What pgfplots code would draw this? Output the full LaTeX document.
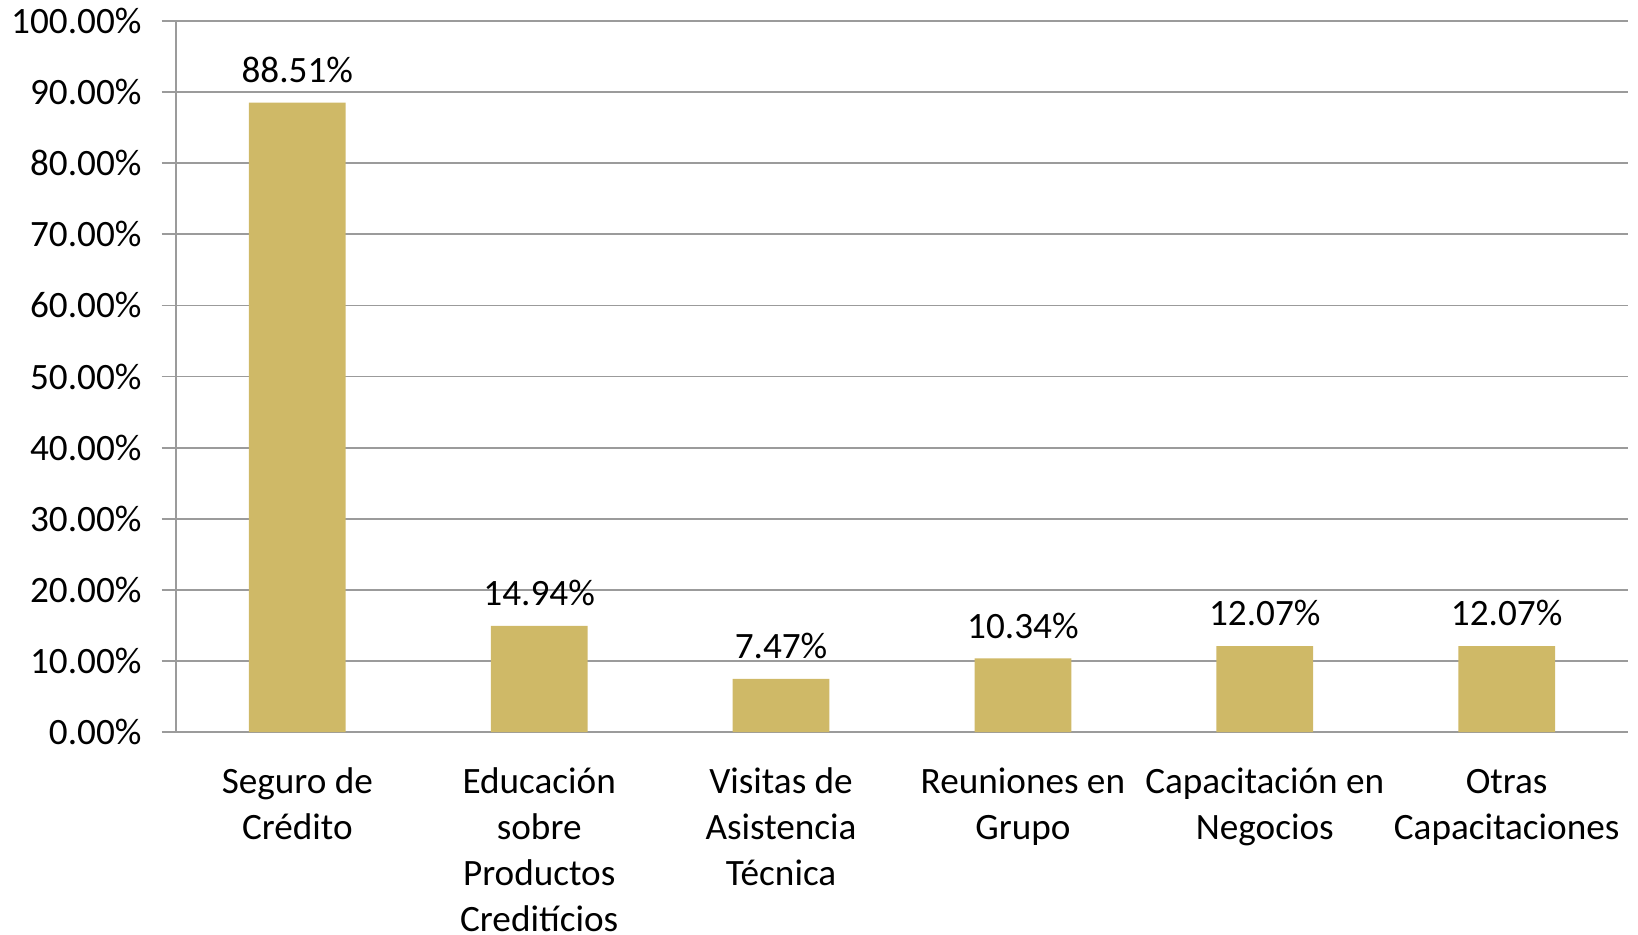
\documentclass[border=0pt]{standalone}
\usepackage{pgfplots}
\pgfplotsset{compat=1.18}
\usepackage{fontspec}
\setmainfont{Carlito}
\usetikzlibrary{calc}

\definecolor{barcol}{RGB}{207,185,103}
\definecolor{gridcol}{RGB}{155,155,155}
\newcommand{\lbl}{\fontsize{9.3}{11.5}\selectfont}

\begin{document}
\begin{tikzpicture}
\begin{axis}[
    scale only axis,
    width=362.8pt, height=177.75pt,
    ybar, bar width=0.4,
    xmin=-0.5, xmax=5.5,
    ymin=0, ymax=100, ytick distance=10,
    xtick=data,
    xticklabels={{Seguro de\\Crédito},{Educación\\sobre\\Productos\\Creditícios},{Visitas de\\Asistencia\\Técnica},{Reuniones en\\Grupo},{Capacitación en\\Negocios},{\vphantom{d}Otras\\Capacitaciones}},
    x tick label style={align=center, font=\lbl, yshift=-1.7pt},
    major x tick style={draw=none},
    yticklabel={\pgfmathprintnumber[fixed,fixed zerofill,precision=2]{\tick}\%},
    y tick label style={font=\lbl, xshift=-1.5pt},
    /pgf/number format/assume math mode=true,
    tick align=outside,
    major tick length=3.7pt,
    axis lines*=left,
    axis line style={draw=gridcol, line width=0.45pt},
    ytick style={draw=gridcol, line width=0.45pt},
    ymajorgrids,
    major grid style={draw=gridcol, line width=0.45pt},
    nodes near coords={\pgfmathprintnumber[fixed,fixed zerofill,precision=2]{\pgfplotspointmeta}\%},
    nodes near coords style={font=\lbl, yshift=1.5pt},
    clip=false,
]
\addplot[fill=barcol, draw=none] coordinates {(0,88.51) (1,14.94) (2,7.47) (3,10.34) (4,12.07) (5,12.07)};
\coordinate (bl) at (rel axis cs:0,0);
\coordinate (tr) at (rel axis cs:1,1);
\end{axis}
\pgfresetboundingbox
\path ($(bl)+(-44.1pt,-50.5pt)$) rectangle ($(tr)+(2.6pt,5.25pt)$);
\end{tikzpicture}
\end{document}
